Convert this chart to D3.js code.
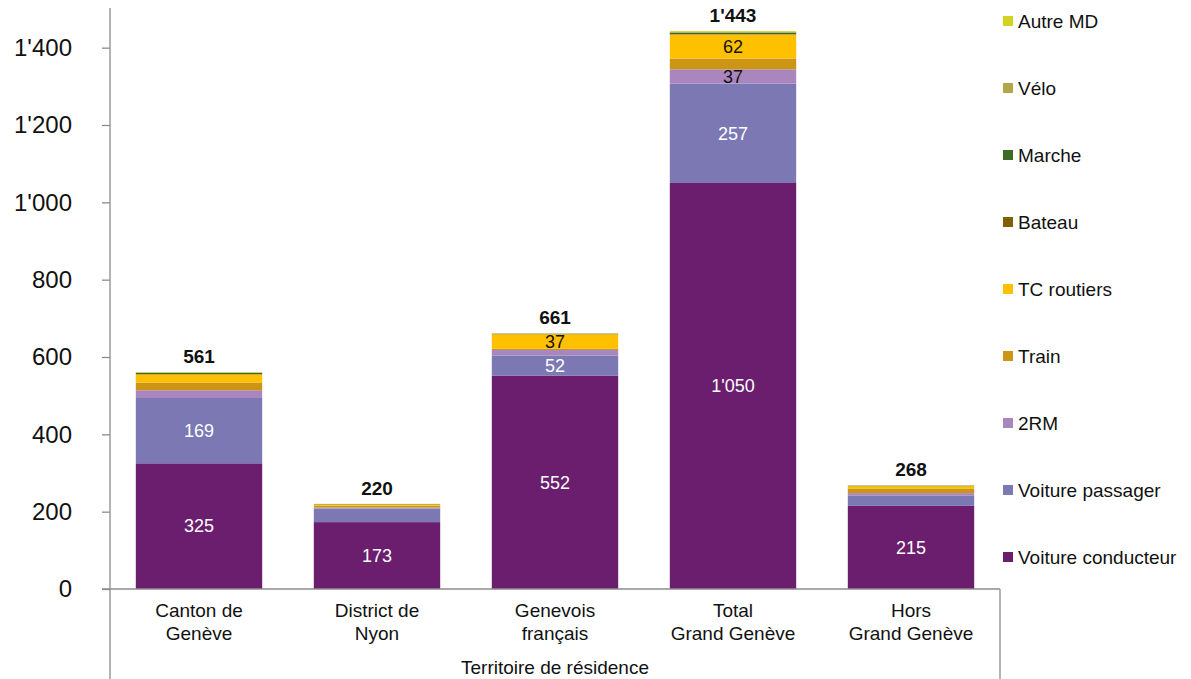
<!DOCTYPE html>
<html lang="fr">
<head>
<meta charset="utf-8">
<title>Territoire de résidence</title>
<script src="https://d3js.org/d3.v7.min.js"></script>
<style>
  body { margin: 0; background: #fff; }
  svg text { font-family: "Liberation Sans", Arial, sans-serif; fill: #111; }
</style>
</head>
<body>
<svg id="chart" width="1191" height="679"></svg>
<script>
// categories (two lines each)
const categories = [
  ["Canton de", "Genève"],
  ["District de", "Nyon"],
  ["Genevois", "français"],
  ["Total", "Grand Genève"],
  ["Hors", "Grand Genève"]
];
const modes = ["Voiture conducteur", "Voiture passager", "2RM", "Train", "TC routiers",
               "Bateau", "Marche", "Vélo", "Autre MD"];

// values per mode, same order as categories
const voitureConducteur = [325, 173, 552, 1050, 215];
const voiturePassager   = [169,  35,  52,  257,  26];
const deuxRM            = [ 20,   3,  14,   37,   7];
const train             = [ 20,   4,   4,   28,  12];
const tcRoutiers        = [ 21,   4,  37,   62,   6];
const bateau            = [  1,   0,   0,    1,   0];
const marche            = [  3,   1,   1,    4,   1];
const velo              = [  1,   0,   1,    2,   1];
const autreMD           = [  1,   0,   0,    2,   0];

const yTicks = [0, 200, 400, 600, 800, 1000, 1200, 1400];

const series = [voitureConducteur, voiturePassager, deuxRM, train, tcRoutiers,
                bateau, marche, velo, autreMD];
const colors = ["#6b1d6e", "#7b78b4", "#aa86bf", "#cc9515", "#ffc000",
                "#7f6000", "#3e6b24", "#b2a848", "#d2d31e"];
const labelColors = ["#fff", "#fff", "#111", "#111", "#111", "#111", "#111", "#111", "#111"];

const locale = d3.formatLocale({decimal: ".", thousands: "'", grouping: [3], currency: ["", ""]});
const fmt = locale.format(",");

const rows = categories.map((c, i) => {
  const r = {cat: i};
  modes.forEach((m, k) => r[m] = series[k][i]);
  return r;
});
const stacked = d3.stack().keys(modes)(rows);

const svg = d3.select("#chart");
const plotLeft = 110, plotRight = 1000, plotTop = 9, plotBottom = 589;

const x = d3.scaleBand().domain(d3.range(categories.length))
  .range([plotLeft, plotRight]).paddingInner(0.29).paddingOuter(0.145);
const y = d3.scaleLinear().domain([0, 1500]).range([plotBottom, plotTop]);

// bars
const layers = svg.append("g").selectAll("g").data(stacked).join("g")
  .attr("fill", (d, i) => colors[i]);
layers.selectAll("rect").data(d => d).join("rect")
  .attr("x", d => x(d.data.cat))
  .attr("width", x.bandwidth())
  .attr("y", d => y(d[1]))
  .attr("height", d => y(d[0]) - y(d[1]));

// segment labels
stacked.forEach((layer, k) => {
  svg.append("g").selectAll("text")
    .data(layer.filter(d => d[1] - d[0] >= 36))
    .join("text")
    .attr("x", d => x(d.data.cat) + x.bandwidth() / 2)
    .attr("y", d => y((d[0] + d[1]) / 2))
    .attr("dy", "0.35em")
    .attr("text-anchor", "middle")
    .style("font-size", "18px")
    .style("fill", labelColors[k])
    .text(d => fmt(d[1] - d[0]));
});

// totals
svg.append("g").selectAll("text").data(rows).join("text")
  .attr("x", d => x(d.cat) + x.bandwidth() / 2)
  .attr("y", d => y(d3.sum(series, s => s[d.cat])) - 9)
  .attr("text-anchor", "middle")
  .style("font-size", "19px")
  .style("font-weight", "bold")
  .text(d => fmt(d3.sum(series, s => s[d.cat])));

// y axis
const yAxis = svg.append("g")
  .attr("transform", `translate(${plotLeft},0)`)
  .call(d3.axisLeft(y).tickValues(yTicks).tickFormat(fmt).tickSize(8).tickPadding(30));
yAxis.select(".domain").remove();
yAxis.selectAll(".tick line").attr("stroke", "#8c8c8c").attr("stroke-width", 1.3);
yAxis.selectAll(".tick text").style("font-size", "24px").style("font-family", "Liberation Sans, Arial, sans-serif");

// axis frame lines
const axisColor = "#8c8c8c";
svg.append("line").attr("x1", plotLeft).attr("x2", plotLeft).attr("y1", 8).attr("y2", 679)
  .attr("stroke", axisColor).attr("stroke-width", 1.3);
svg.append("line").attr("x1", plotLeft - 8).attr("x2", plotRight).attr("y1", plotBottom).attr("y2", plotBottom)
  .attr("stroke", axisColor).attr("stroke-width", 1.3);
svg.append("line").attr("x1", plotRight).attr("x2", plotRight).attr("y1", plotBottom).attr("y2", 679)
  .attr("stroke", axisColor).attr("stroke-width", 1.3);

// category labels
const catText = svg.append("g").selectAll("text").data(categories).join("text")
  .attr("text-anchor", "middle")
  .style("font-size", "19px");
catText.selectAll("tspan").data((d, i) => d.map(line => ({line, i}))).join("tspan")
  .attr("x", d => x(d.i) + x.bandwidth() / 2)
  .attr("y", (d, j) => 617 + j * 23)
  .text(d => d.line);

svg.append("text")
  .attr("x", (plotLeft + plotRight) / 2)
  .attr("y", 674)
  .attr("text-anchor", "middle")
  .style("font-size", "19px")
  .text("Territoire de résidence");

// legend (reverse of stack order)
const legend = svg.append("g").selectAll("g").data(modes.slice().reverse()).join("g")
  .attr("transform", (d, i) => `translate(1003,${21 + i * 67})`);
legend.append("rect")
  .attr("y", -5).attr("width", 10).attr("height", 10)
  .attr("fill", d => colors[modes.indexOf(d)]);
legend.append("text")
  .attr("x", 15)
  .attr("dy", "0.36em")
  .style("font-size", "19px")
  .text(d => d);
</script>
</body>
</html>
